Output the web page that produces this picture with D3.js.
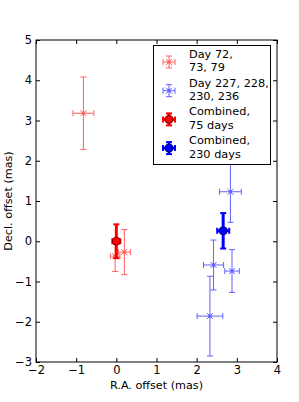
<!DOCTYPE html>
<html>
<head>
<meta charset="utf-8">
<script src="https://cdn.jsdelivr.net/npm/d3@7"></script>
<style>
  html, body { margin: 0; padding: 0; background: #fff; }
  svg text { font-family: "DejaVu Sans", sans-serif; }
</style>
</head>
<body>
<div id="chart"></div>
<script>
// early epoch (days 72, 73, 79)
const earlyRA = [-0.82, 0.20, -0.03];
const earlyRAErr = [0.26, 0.15, 0.12];
const earlyDec = [3.18, -0.27, -0.37];
const earlyDecErr = [0.90, 0.56, 0.38];

// late epoch (days 227, 228, 230, 236)
const lateRA = [2.84, 2.42, 2.88, 2.33];
const lateRAErr = [0.27, 0.25, 0.18, 0.32];
const lateDec = [1.23, -0.59, -0.74, -1.86];
const lateDecErr = [0.76, 0.62, 0.53, 0.99];

// combined positions
const combRA = [0.00, 2.66];
const combRAErr = [0.10, 0.15];
const combDec = [0.00, 0.26];
const combDecErr = [0.42, 0.44];

const xTicks = [-2, -1, 0, 1, 2, 3, 4];
const yTicks = [-3, -2, -1, 0, 1, 2, 3, 4, 5];
const legendLabels = [
  ["Day 72,", "73, 79"],
  ["Day 227, 228,", "230, 236"],
  ["Combined,", "75 days"],
  ["Combined,", "230 days"]
];

const width = 299, height = 402;
const margin = { top: 40, right: 22, bottom: 40, left: 36 };

const svg = d3.select("#chart").append("svg")
  .attr("width", width)
  .attr("height", height);

const x = d3.scaleLinear().domain([-2, 4]).range([margin.left, width - margin.right]);
const y = d3.scaleLinear().domain([-3, 5]).range([height - margin.bottom, margin.top]);

const zip = (a, b, c, d) => a.map((v, i) => ({ x: v, xe: b[i], y: c[i], ye: d[i] }));
const early = zip(earlyRA, earlyRAErr, earlyDec, earlyDecErr);
const late = zip(lateRA, lateRAErr, lateDec, lateDecErr);
const comb = zip(combRA, combRAErr, combDec, combDecErr);

// error bar + marker drawn in pixel space around (cx, cy)
function drawErr(g, cx, cy, x0, x1, y0, y1, style) {
  const e = g.append("g").attr("stroke", style.color).attr("opacity", style.opacity)
    .attr("stroke-width", style.lw).attr("fill", "none");
  e.append("line").attr("x1", x0).attr("x2", x1).attr("y1", cy).attr("y2", cy);
  e.append("line").attr("x1", cx).attr("x2", cx).attr("y1", y0).attr("y2", y1);
  const c = style.cap;
  const cw = style.capw;
  e.append("line").attr("x1", x0).attr("x2", x0).attr("y1", cy - c).attr("y2", cy + c).attr("stroke-width", cw);
  e.append("line").attr("x1", x1).attr("x2", x1).attr("y1", cy - c).attr("y2", cy + c).attr("stroke-width", cw);
  e.append("line").attr("x1", cx - c).attr("x2", cx + c).attr("y1", y0).attr("y2", y0).attr("stroke-width", cw);
  e.append("line").attr("x1", cx - c).attr("x2", cx + c).attr("y1", y1).attr("y2", y1).attr("stroke-width", cw);
  if (style.marker === "x") {
    const m = 3;
    e.append("path").attr("d", `M${cx - m},${cy - m}L${cx + m},${cy + m}M${cx - m},${cy + m}L${cx + m},${cy - m}`)
      .attr("stroke-width", 1);
    e.append("rect").attr("x", cx - 1.5).attr("y", cy - 1.5).attr("width", 3).attr("height", 3)
      .attr("fill", style.color).attr("stroke", "none");
  } else {
    g.append("circle").attr("cx", cx).attr("cy", cy).attr("r", 4)
      .attr("fill", style.color).attr("stroke", style.edge).attr("stroke-width", 1);
  }
}

const thinRed = { color: "#ff0000", opacity: 0.62, lw: 1, cap: 3, capw: 1, marker: "x" };
const thinBlue = { color: "#0000ff", opacity: 0.62, lw: 1, cap: 3, capw: 1, marker: "x" };
const thickRed = { color: "#ff0000", opacity: 1, lw: 3, cap: 3, capw: 2, marker: "o", edge: "#7a0000" };
const thickBlue = { color: "#0000ff", opacity: 1, lw: 3, cap: 3, capw: 2, marker: "o", edge: "#00007a" };

const plot = svg.append("g");

early.forEach(d => drawErr(plot, x(d.x), y(d.y), x(d.x - d.xe), x(d.x + d.xe), y(d.y + d.ye), y(d.y - d.ye), thinRed));
late.forEach(d => drawErr(plot, x(d.x), y(d.y), x(d.x - d.xe), x(d.x + d.xe), y(d.y + d.ye), y(d.y - d.ye), thinBlue));
drawErr(plot, x(comb[0].x), y(comb[0].y), x(comb[0].x - comb[0].xe), x(comb[0].x + comb[0].xe),
  y(comb[0].y + comb[0].ye), y(comb[0].y - comb[0].ye), thickRed);
drawErr(plot, x(comb[1].x), y(comb[1].y), x(comb[1].x - comb[1].xe), x(comb[1].x + comb[1].xe),
  y(comb[1].y + comb[1].ye), y(comb[1].y - comb[1].ye), thickBlue);

// axes, ticks pointing inward on all four sides
const fmt = d3.format("d");
const axB = svg.append("g").attr("transform", `translate(0,${y.range()[0]})`)
  .call(d3.axisBottom(x).tickValues(xTicks).tickFormat(fmt).tickSizeInner(-4).tickSizeOuter(0).tickPadding(4));
const axT = svg.append("g").attr("transform", `translate(0,${y.range()[1]})`)
  .call(d3.axisTop(x).tickValues(xTicks).tickFormat("").tickSizeInner(-4).tickSizeOuter(0));
const axL = svg.append("g").attr("transform", `translate(${x.range()[0]},0)`)
  .call(d3.axisLeft(y).tickValues(yTicks).tickFormat(fmt).tickSizeInner(-4).tickSizeOuter(0).tickPadding(4));
const axR = svg.append("g").attr("transform", `translate(${x.range()[1]},0)`)
  .call(d3.axisRight(y).tickValues(yTicks).tickFormat("").tickSizeInner(-4).tickSizeOuter(0));

[axB, axT, axL, axR].forEach(a => {
  a.select(".domain").remove();
  a.selectAll("text").attr("font-size", 11.5).attr("fill", "#000").attr("font-family", "DejaVu Sans, sans-serif");
  a.selectAll("line").attr("stroke", "#000");
});

svg.append("rect")
  .attr("x", x.range()[0]).attr("y", y.range()[1])
  .attr("width", x.range()[1] - x.range()[0])
  .attr("height", y.range()[0] - y.range()[1])
  .attr("fill", "none").attr("stroke", "#000").attr("stroke-width", 1);

svg.append("text")
  .attr("x", (x.range()[0] + x.range()[1]) / 2).attr("y", 389)
  .attr("text-anchor", "middle").attr("font-size", 11.2)
  .text("R.A. offset (mas)");

svg.append("text")
  .attr("transform", `translate(12,${(y.range()[0] + y.range()[1]) / 2}) rotate(-90)`)
  .attr("text-anchor", "middle").attr("font-size", 11.2)
  .text("Decl. offset (mas)");

// legend
const lg = svg.append("g");
lg.append("rect").attr("x", 153.5).attr("y", 45.5).attr("width", 117).attr("height", 119)
  .attr("fill", "#fff").attr("stroke", "#000").attr("stroke-width", 1);

const legendStyles = [thinRed, thinBlue, thickRed, thickBlue];
legendStyles.forEach((s, i) => {
  const cy = 62 + i * 28.7;
  const cx = 169;
  drawErr(lg, cx, cy, cx - 6, cx + 6, cy - 6, cy + 6, s);
  const t = lg.append("text").attr("x", 189).attr("y", cy - 4).attr("font-size", 11.3);
  t.append("tspan").attr("x", 189).text(legendLabels[i][0]);
  t.append("tspan").attr("x", 189).attr("dy", 13.4).text(legendLabels[i][1]);
});
</script>
</body>
</html>
